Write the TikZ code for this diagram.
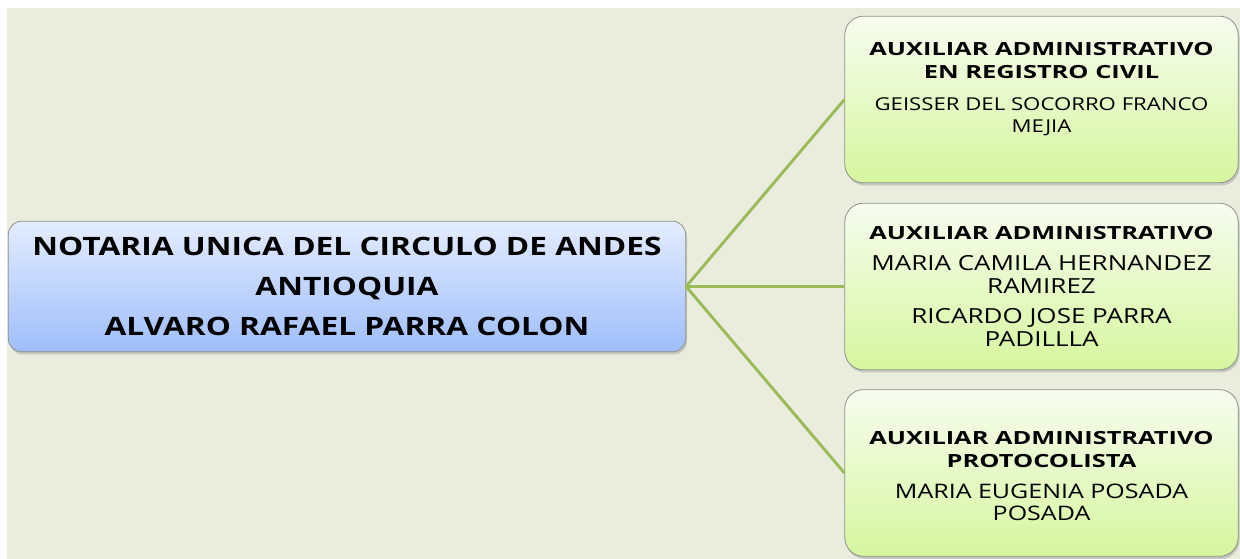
\documentclass[tikz,border=0pt]{standalone}
\usepackage{fontspec}
\setmainfont{Open Sans}
\newfontfamily\rootfont[FakeStretch=1.25]{Open Sans}
\newfontfamily\rolefont[FakeStretch=1.4]{Open Sans}
\newfontfamily\namefont[FakeStretch=1.25]{Open Sans}
\newcommand\role[1]{{\rolefont\fontsize{13.6}{17}\selectfont\bfseries #1}}
\usetikzlibrary{positioning, shadows}

\definecolor{bgpaper}{RGB}{234,237,222}
\definecolor{boxline}{RGB}{140,146,140}
\definecolor{rootTop}{RGB}{228,236,255}
\definecolor{rootBot}{RGB}{158,190,250}
\definecolor{staffTop}{RGB}{247,252,240}
\definecolor{staffBot}{RGB}{214,246,158}
\definecolor{branch}{RGB}{155,187,89}

\begin{document}
\begin{tikzpicture}[
    x=0.75pt, y=-0.75pt,
    rootbox/.style={draw=boxline, line width=0.6pt, rounded corners=10pt, top color=rootTop, bottom color=rootBot,
        minimum width=508pt, minimum height=98pt, align=center,
        font=\rootfont\fontsize{19}{30}\selectfont\bfseries,
        drop shadow={shadow xshift=1pt, shadow yshift=-2pt, opacity=0.35}},
    staffbox/.style={draw=boxline, line width=0.6pt, rounded corners=14pt, top color=staffTop, bottom color=staffBot,
        minimum width=295pt, minimum height=125pt, align=center,
        font=\namefont\fontsize{#1}{17}\selectfont,
        drop shadow={shadow xshift=1pt, shadow yshift=-2pt, opacity=0.35}},
    branchline/.style={draw=branch, line width=2.2pt}
]

    % background sheet
    \useasboundingbox (0,0) rectangle (1240,559);
    \fill[bgpaper] (7,8) rectangle (1240,559);

    % ===== ROOT =====
    \node[rootbox] (Notaria) at (347,286.5)
        {NOTARIA UNICA DEL CIRCULO DE ANDES\\ANTIOQUIA\\ALVARO RAFAEL PARRA COLON};

    % ===== STAFF =====
    \node[staffbox=13.3, text depth=18pt] (Registro) at (1041.5,99.5)
        {\role{AUXILIAR ADMINISTRATIVO}\\\role{EN REGISTRO CIVIL}\\[7pt]GEISSER DEL SOCORRO FRANCO\\MEJIA};
    \node[staffbox=15.6] (Auxiliar) at (1041.5,286.5)
        {\role{AUXILIAR ADMINISTRATIVO}\\[6pt]MARIA CAMILA HERNANDEZ\\RAMIREZ\\[6pt]RICARDO JOSE PARRA\\PADILLLA};
    \node[staffbox=15, text height=72pt] (Protocolo) at (1041.5,473)
        {\role{AUXILIAR ADMINISTRATIVO}\\\role{PROTOCOLISTA}\\[6pt]MARIA EUGENIA POSADA\\POSADA};

    % ===== BRANCHES =====
    \draw[branchline] (Notaria.east) -- (Registro.west);
    \draw[branchline] (Notaria.east) -- (Auxiliar.west);
    \draw[branchline] (Notaria.east) -- (Protocolo.west);

\end{tikzpicture}
\end{document}
